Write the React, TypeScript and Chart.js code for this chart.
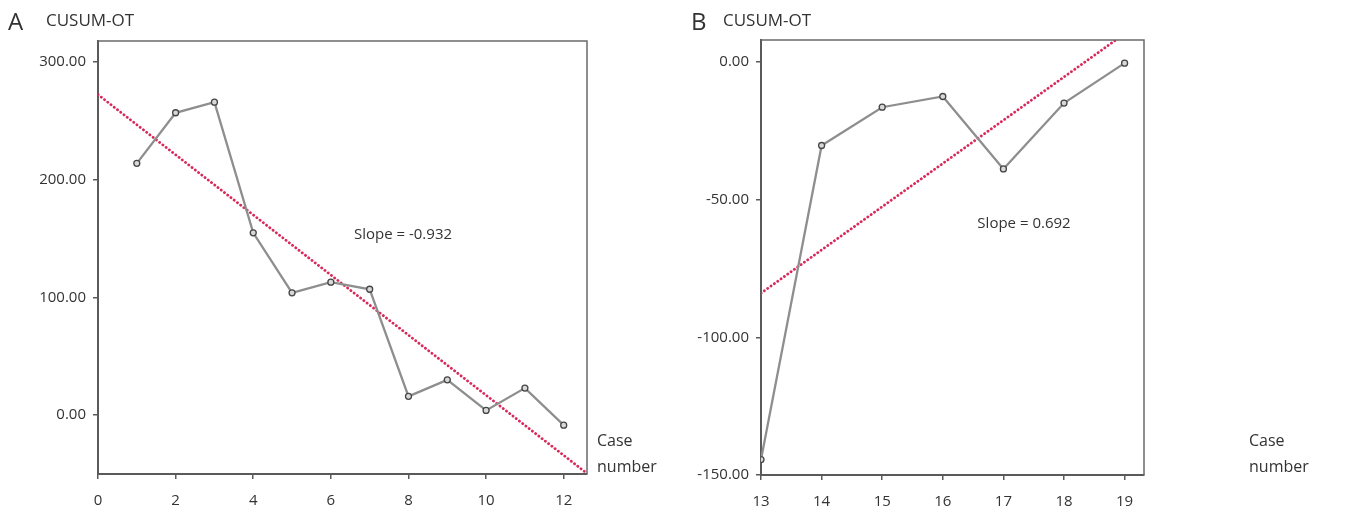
import React, { useEffect, useRef } from "react";
import { Chart, registerables } from "chart.js";

Chart.register(...registerables);

// ---- Panel A data ----
const CASES_A = [1, 2, 3, 4, 5, 6, 7, 8, 9, 10, 11, 12];
const CUSUM_A = [214, 257, 266, 155, 104, 113, 107, 16, 30, 4, 23, -8.5];
const TREND_A_X = [0, 12.6];
const TREND_A_Y = [272.4, -49.5];
const X_TICKS_A = [0, 2, 4, 6, 8, 10, 12];
const Y_TICKS_A = [0, 100, 200, 300];

// ---- Panel B data ----
const CASES_B = [13, 14, 15, 16, 17, 18, 19];
const CUSUM_B = [-144.4, -30.4, -16.5, -12.6, -38.9, -15, -0.5];
const TREND_B_X = [13, 19.32];
const TREND_B_Y = [-84, 15.2];
const X_TICKS_B = [13, 14, 15, 16, 17, 18, 19];
const Y_TICKS_B = [-150, -100, -50, 0];

const FONT = "'Open Sans', 'Noto Sans', sans-serif";
const TEXT = "#333333";
const AXIS = "#5a5a5a";

type Label = { text: string; x: number; y: number; size: number; align?: CanvasTextAlign };

type PanelProps = {
  left: number;
  width: number;
  height: number;
  area: { left: number; right: number; top: number; bottom: number };
  xs: number[];
  ys: number[];
  trendX: number[];
  trendY: number[];
  xTicks: number[];
  yTicks: number[];
  xRange: [number, number];
  yRange: [number, number];
  xFmt: (v: number) => string;
  labels: Label[];
};

function Panel(p: PanelProps) {
  const ref = useRef<HTMLCanvasElement | null>(null);
  useEffect(() => {
    if (!ref.current) return;
    const framePlugin = {
      id: "frame",
      afterDraw(chart: any) {
        const { ctx, chartArea: a } = chart;
        ctx.save();
        ctx.strokeStyle = "#6a6a6a";
        ctx.lineWidth = 1.5;
        ctx.beginPath();
        ctx.moveTo(a.left, a.top);
        ctx.lineTo(a.right, a.top);
        ctx.lineTo(a.right, a.bottom);
        ctx.stroke();
        ctx.fillStyle = TEXT;
        ctx.textBaseline = "alphabetic";
        for (const l of p.labels) {
          ctx.font = `${l.size}px ${FONT}`;
          ctx.textAlign = l.align || "left";
          ctx.fillText(l.text, l.x, l.y);
        }
        ctx.restore();
      },
    };
    const chart = new Chart(ref.current, {
      type: "line",
      data: {
        datasets: [
          {
            data: p.xs.map((x, i) => ({ x, y: p.ys[i] })),
            borderColor: "#8e8e8e",
            borderWidth: 2.3,
            pointRadius: 3,
            pointBorderWidth: 1.3,
            pointBorderColor: "#454545",
            pointBackgroundColor: "#d8d8d8",
            tension: 0,
            order: 1,
          },
          {
            data: p.trendX.map((x, i) => ({ x, y: p.trendY[i] })),
            borderColor: "#d9285a",
            borderWidth: 2.8,
            borderDash: [0.1, 4],
            borderCapStyle: "round",
            pointRadius: 0,
            tension: 0,
            order: 2,
          },
        ],
      },
      options: {
        responsive: false,
        animation: false,
        events: [],
        layout: {
          padding: {
            left: 0,
            top: p.area.top,
            right: p.width - p.area.right,
            bottom: 0,
          },
        },
        plugins: { legend: { display: false }, tooltip: { enabled: false }, title: { display: false } },
        scales: {
          x: {
            type: "linear",
            min: p.xRange[0],
            max: p.xRange[1],
            afterBuildTicks: (s: any) => {
              s.ticks = p.xTicks.map((v) => ({ value: v }));
            },
            afterFit: (s: any) => {
              s.height = p.height - p.area.bottom;
            },
            grid: { drawOnChartArea: false, drawTicks: true, tickLength: 5, color: AXIS, lineWidth: 1.5 },
            border: { display: true, color: AXIS, width: 2 },
            ticks: {
              color: TEXT,
              font: { family: FONT, size: 15 },
              padding: 13,
              maxRotation: 0,
              autoSkip: false,
              callback: (v: any) => p.xFmt(Number(v)),
            },
          },
          y: {
            type: "linear",
            min: p.yRange[0],
            max: p.yRange[1],
            afterBuildTicks: (s: any) => {
              s.ticks = p.yTicks.map((v) => ({ value: v }));
            },
            afterFit: (s: any) => {
              s.width = p.area.left;
            },
            grid: { drawOnChartArea: false, drawTicks: true, tickLength: 5, color: AXIS, lineWidth: 1.5 },
            border: { display: true, color: AXIS, width: 2 },
            ticks: {
              color: TEXT,
              font: { family: FONT, size: 15 },
              padding: 7,
              autoSkip: false,
              callback: (v: any) => Number(v).toFixed(2),
            },
          },
        },
      },
      plugins: [framePlugin],
    } as any);
    return () => chart.destroy();
  }, []);
  return (
    <canvas
      ref={ref}
      width={p.width}
      height={p.height}
      style={{ position: "absolute", left: p.left, top: 0, width: p.width, height: p.height, display: "block" }}
    />
  );
}

export default function App() {
  return (
    <div style={{ position: "fixed", left: 0, top: 0, width: 1351, height: 514, background: "#fff", overflow: "hidden" }}>
      <Panel
        left={0}
        width={676}
        height={514}
        area={{ left: 98, right: 587, top: 41, bottom: 474 }}
        xs={CASES_A}
        ys={CUSUM_A}
        trendX={TREND_A_X}
        trendY={TREND_A_Y}
        xTicks={X_TICKS_A}
        yTicks={Y_TICKS_A}
        xRange={[0, 12.6]}
        yRange={[-50, 318]}
        xFmt={(v) => String(v)}
        labels={[
          { text: "A", x: 8, y: 30, size: 24 },
          { text: "CUSUM-OT", x: 46, y: 26, size: 17 },
          { text: "Slope = -0.932", x: 403, y: 239, size: 15, align: "center" },
          { text: "Case", x: 597, y: 446, size: 16 },
          { text: "number", x: 597, y: 472, size: 16 },
        ]}
      />
      <Panel
        left={676}
        width={675}
        height={514}
        area={{ left: 85, right: 468, top: 40, bottom: 475 }}
        xs={CASES_B}
        ys={CUSUM_B}
        trendX={TREND_B_X}
        trendY={TREND_B_Y}
        xTicks={X_TICKS_B}
        yTicks={Y_TICKS_B}
        xRange={[13, 19.32]}
        yRange={[-150, 7.9]}
        xFmt={(v) => String(v)}
        labels={[
          { text: "B", x: 15, y: 30, size: 24 },
          { text: "CUSUM-OT", x: 47, y: 26, size: 17 },
          { text: "Slope = 0.692", x: 348, y: 228, size: 15, align: "center" },
          { text: "Case", x: 573, y: 446, size: 16 },
          { text: "number", x: 573, y: 472, size: 16 },
        ]}
      />
    </div>
  );
}
